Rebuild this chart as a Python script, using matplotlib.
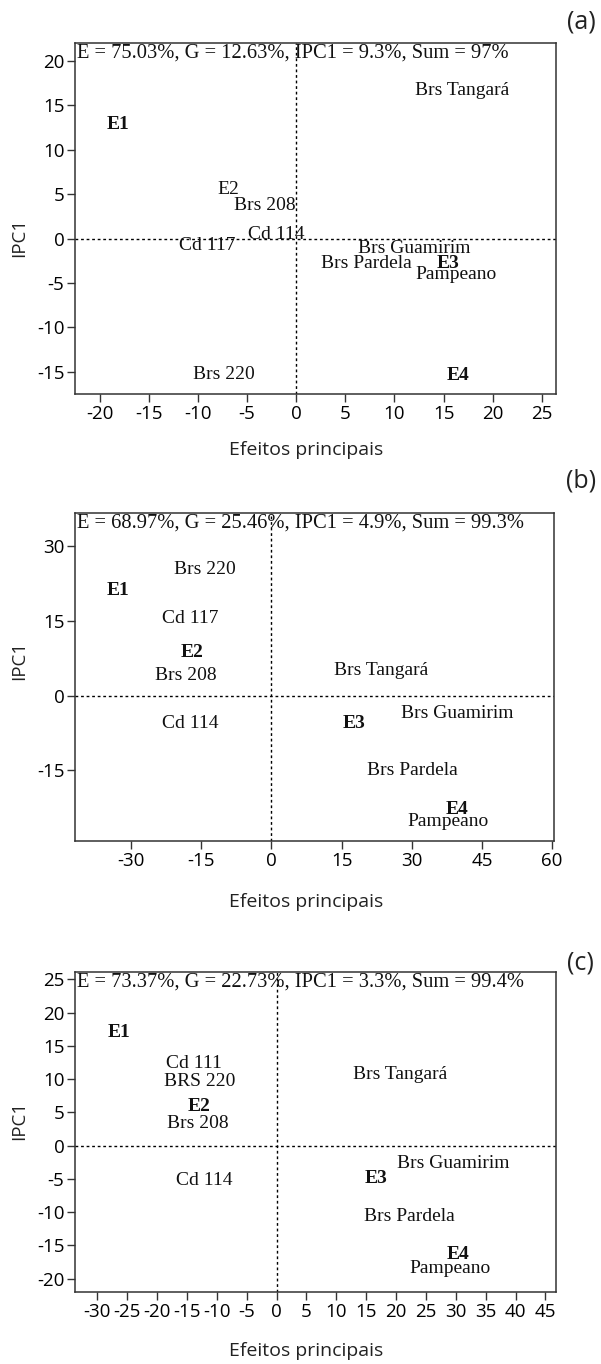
import matplotlib
matplotlib.use('Agg')
import matplotlib.pyplot as plt

# panel (a)
names_a = ['E1', 'Brs Tangará', 'E2', 'Brs 208', 'Cd 114', 'Cd 117', 'Brs Guamirim',
           'Brs Pardela', 'E3', 'Pampeano', 'Brs 220', 'E4']
x_a = [-18.1, 16.9, -6.9, -3.2, -2.0, -9.1, 12.0, 7.1, 15.4, 16.3, -7.4, 16.45]
y_a = [12.8, 16.7, 5.55, 3.7, 0.4, -0.8, -1.1, -2.8, -2.8, -4.1, -15.35, -15.4]
bold_a = [True, False, False, False, False, False, False, False, True, False, False, True]
title_a = 'E = 75.03%, G = 12.63%, IPC1 = 9.3%, Sum = 97%'

# panel (b)
names_b = ['Brs 220', 'E1', 'Cd 117', 'E2', 'Brs 208', 'Brs Tangará', 'Cd 114', 'E3',
           'Brs Guamirim', 'Brs Pardela', 'E4', 'Pampeano']
x_b = [-14.2, -32.8, -17.3, -17.0, -18.3, 23.4, -17.3, 17.7, 39.8, 30.1, 39.6, 37.7]
y_b = [25.4, 21.2, 15.5, 8.65, 3.96, 5.1, -5.6, -5.6, -3.6, -15.0, -22.9, -25.4]
bold_b = [False, True, False, True, False, False, False, True, False, False, True, False]
title_b = 'E = 68.97%, G = 25.46%, IPC1 = 4.9%, Sum = 99.3%'

# panel (c)
names_c = ['E1', 'Cd 111', 'BRS 220', 'E2', 'Brs 208', 'Brs Tangará', 'Brs Guamirim', 'E3',
           'Cd 114', 'Brs Pardela', 'E4', 'Pampeano']
x_c = [-26.4, -13.9, -12.9, -12.95, -13.1, 20.7, 29.5, 16.7, -12.1, 22.2, 30.4, 29.0]
y_c = [17.0, 12.3, 9.7, 5.96, 3.36, 10.7, -2.66, -4.9, -5.26, -10.57, -16.4, -18.4]
bold_c = [True, False, False, True, False, False, False, True, False, False, True, False]
title_c = 'E = 73.37%, G = 22.73%, IPC1 = 3.3%, Sum = 99.4%'

panels = [
    (names_a, x_a, y_a, bold_a, title_a, [-22.46, 26.4], [-17.52, 22.06],
     list(range(-20, 26, 5)), list(range(-15, 21, 5)), '(a)'),
    (names_b, x_b, y_b, bold_b, title_b, [-41.9, 60.4], [-29.2, 36.75],
     list(range(-30, 61, 15)), list(range(-15, 31, 15)), '(b)'),
    (names_c, x_c, y_c, bold_c, title_c, [-33.65, 46.7], [-21.95, 26.15],
     list(range(-30, 46, 5)), list(range(-20, 26, 5)), '(c)'),
]

# axes boxes in figure fractions [left, bottom, width, height]
boxes = [[0.1256, 0.7111, 0.7989, 0.2576],
         [0.1256, 0.3836, 0.7962, 0.2405],
         [0.1256, 0.0530, 0.7989, 0.2346]]
label_pos = [(0.968, 0.984), (0.967, 0.647), (0.965, 0.294)]
xlabel_y = [450, 902, 1351]
ylabel_y = [237, 660, 1120]

sans = ['Open Sans', 'DejaVu Sans']
serif = ['Liberation Serif', 'DejaVu Serif']

fig = plt.figure(figsize=(6.01, 13.64), dpi=100)

for i, (names, xs, ys, bolds, title, xl, yl, xt, yt, lab) in enumerate(panels):
    ax = fig.add_axes(boxes[i])
    ax.set_xlim(xl)
    ax.set_ylim(yl)
    ax.axhline(0, color='k', ls=(0, (2, 2)), lw=1)
    ax.axvline(0, color='k', ls=(0, (2, 2)), lw=1)
    for n, x, y, b in zip(names, xs, ys, bolds):
        ax.text(x, y, n, ha='center', va='center', fontsize=14, family=serif,
                fontweight='bold' if b else 'normal', color='#111111')
    ax.text(0.004, 0.997, title, transform=ax.transAxes, ha='left', va='top',
            fontsize=14.8, family=serif, color='#111111')
    ax.set_xticks(xt)
    ax.set_yticks(yt)
    ax.set_xticklabels([str(v) for v in xt], family=sans, fontsize=13.5)
    ax.set_yticklabels([str(v) for v in yt], family=sans, fontsize=13.5)
    ax.tick_params(direction='out', length=6, width=1, color='#333333', pad=2)
    for s in ax.spines.values():
        s.set_linewidth(1.1)
        s.set_color('#333333')
    fig.text(306 / 601, 1 - xlabel_y[i] / 1364, 'Efeitos principais', ha='center', va='center',
             family=sans, fontsize=14, color='#222222')
    fig.text(19 / 601, 1 - ylabel_y[i] / 1364, 'IPC1', ha='center', va='center', rotation=90,
             family=sans, fontsize=13.5, color='#222222')
    fig.text(label_pos[i][0], label_pos[i][1], lab, ha='center', va='center',
             family=sans, fontsize=18, color='#222222')

fig.savefig('out.png', dpi=100)
